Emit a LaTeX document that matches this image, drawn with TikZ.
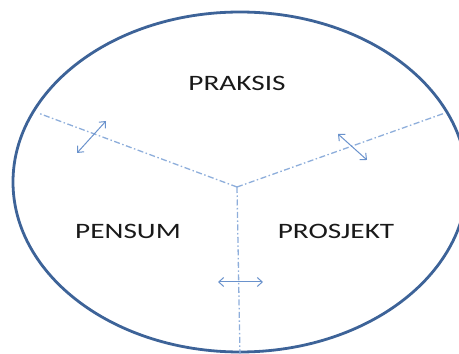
\documentclass[tikz,border=0pt]{standalone}
\usepackage{xcolor}
\usepackage{fontspec}
\setmainfont{Carlito}
\usepackage{tikz}
\usetikzlibrary{arrows.meta}

\definecolor{rimblue}{HTML}{3D6398}
\definecolor{lineblue}{HTML}{8EAEDB}
\definecolor{arrowblue}{HTML}{6A92CC}

\begin{document}
\begin{tikzpicture}[x=1pt,y=1pt,
  rim/.style={draw=rimblue, line width=2.8pt},
  divider/.style={draw=lineblue, line width=1.3pt, dash pattern=on 6pt off 2.5pt on 1.5pt off 2.5pt},
  swap/.style={draw=arrowblue, line width=1pt, {Straight Barb[length=5pt,width=9pt]}-{Straight Barb[length=5pt,width=9pt]}},
  label/.style={font=\fontsize{22}{26}\selectfont, text=black!90, xscale=1.33, transform shape}]
\clip (0,0) rectangle (459,354);
\draw[rim] (240,172) ellipse [x radius=227, y radius=170];
% dividing lines
\coordinate (mid) at (237,167);
\coordinate (leftend) at (38,241);
\coordinate (rightend) at (445,241);
\coordinate (bottomend) at (240,-2);
\draw[divider] (mid) -- (leftend);
\draw[divider] (mid) -- (rightend);
\draw[divider] (mid) -- (bottomend);
% arrows across the lines
\coordinate (la) at (77,201);
\coordinate (lb) at (106,233);
\coordinate (ra) at (338,220);
\coordinate (rb) at (367,194);
\coordinate (ba) at (218,72);
\coordinate (bb) at (263,72);
\draw[swap] (la) -- (lb);
\draw[swap] (ra) -- (rb);
\draw[swap] (ba) -- (bb);
% labels
\node[label] (praksis) at (237,271) {PRAKSIS};
\node[label] (pensum) at (128,123) {PENSUM};
\node[label] (prosjekt) at (336,123) {PROSJEKT};
\end{tikzpicture}
\end{document}
